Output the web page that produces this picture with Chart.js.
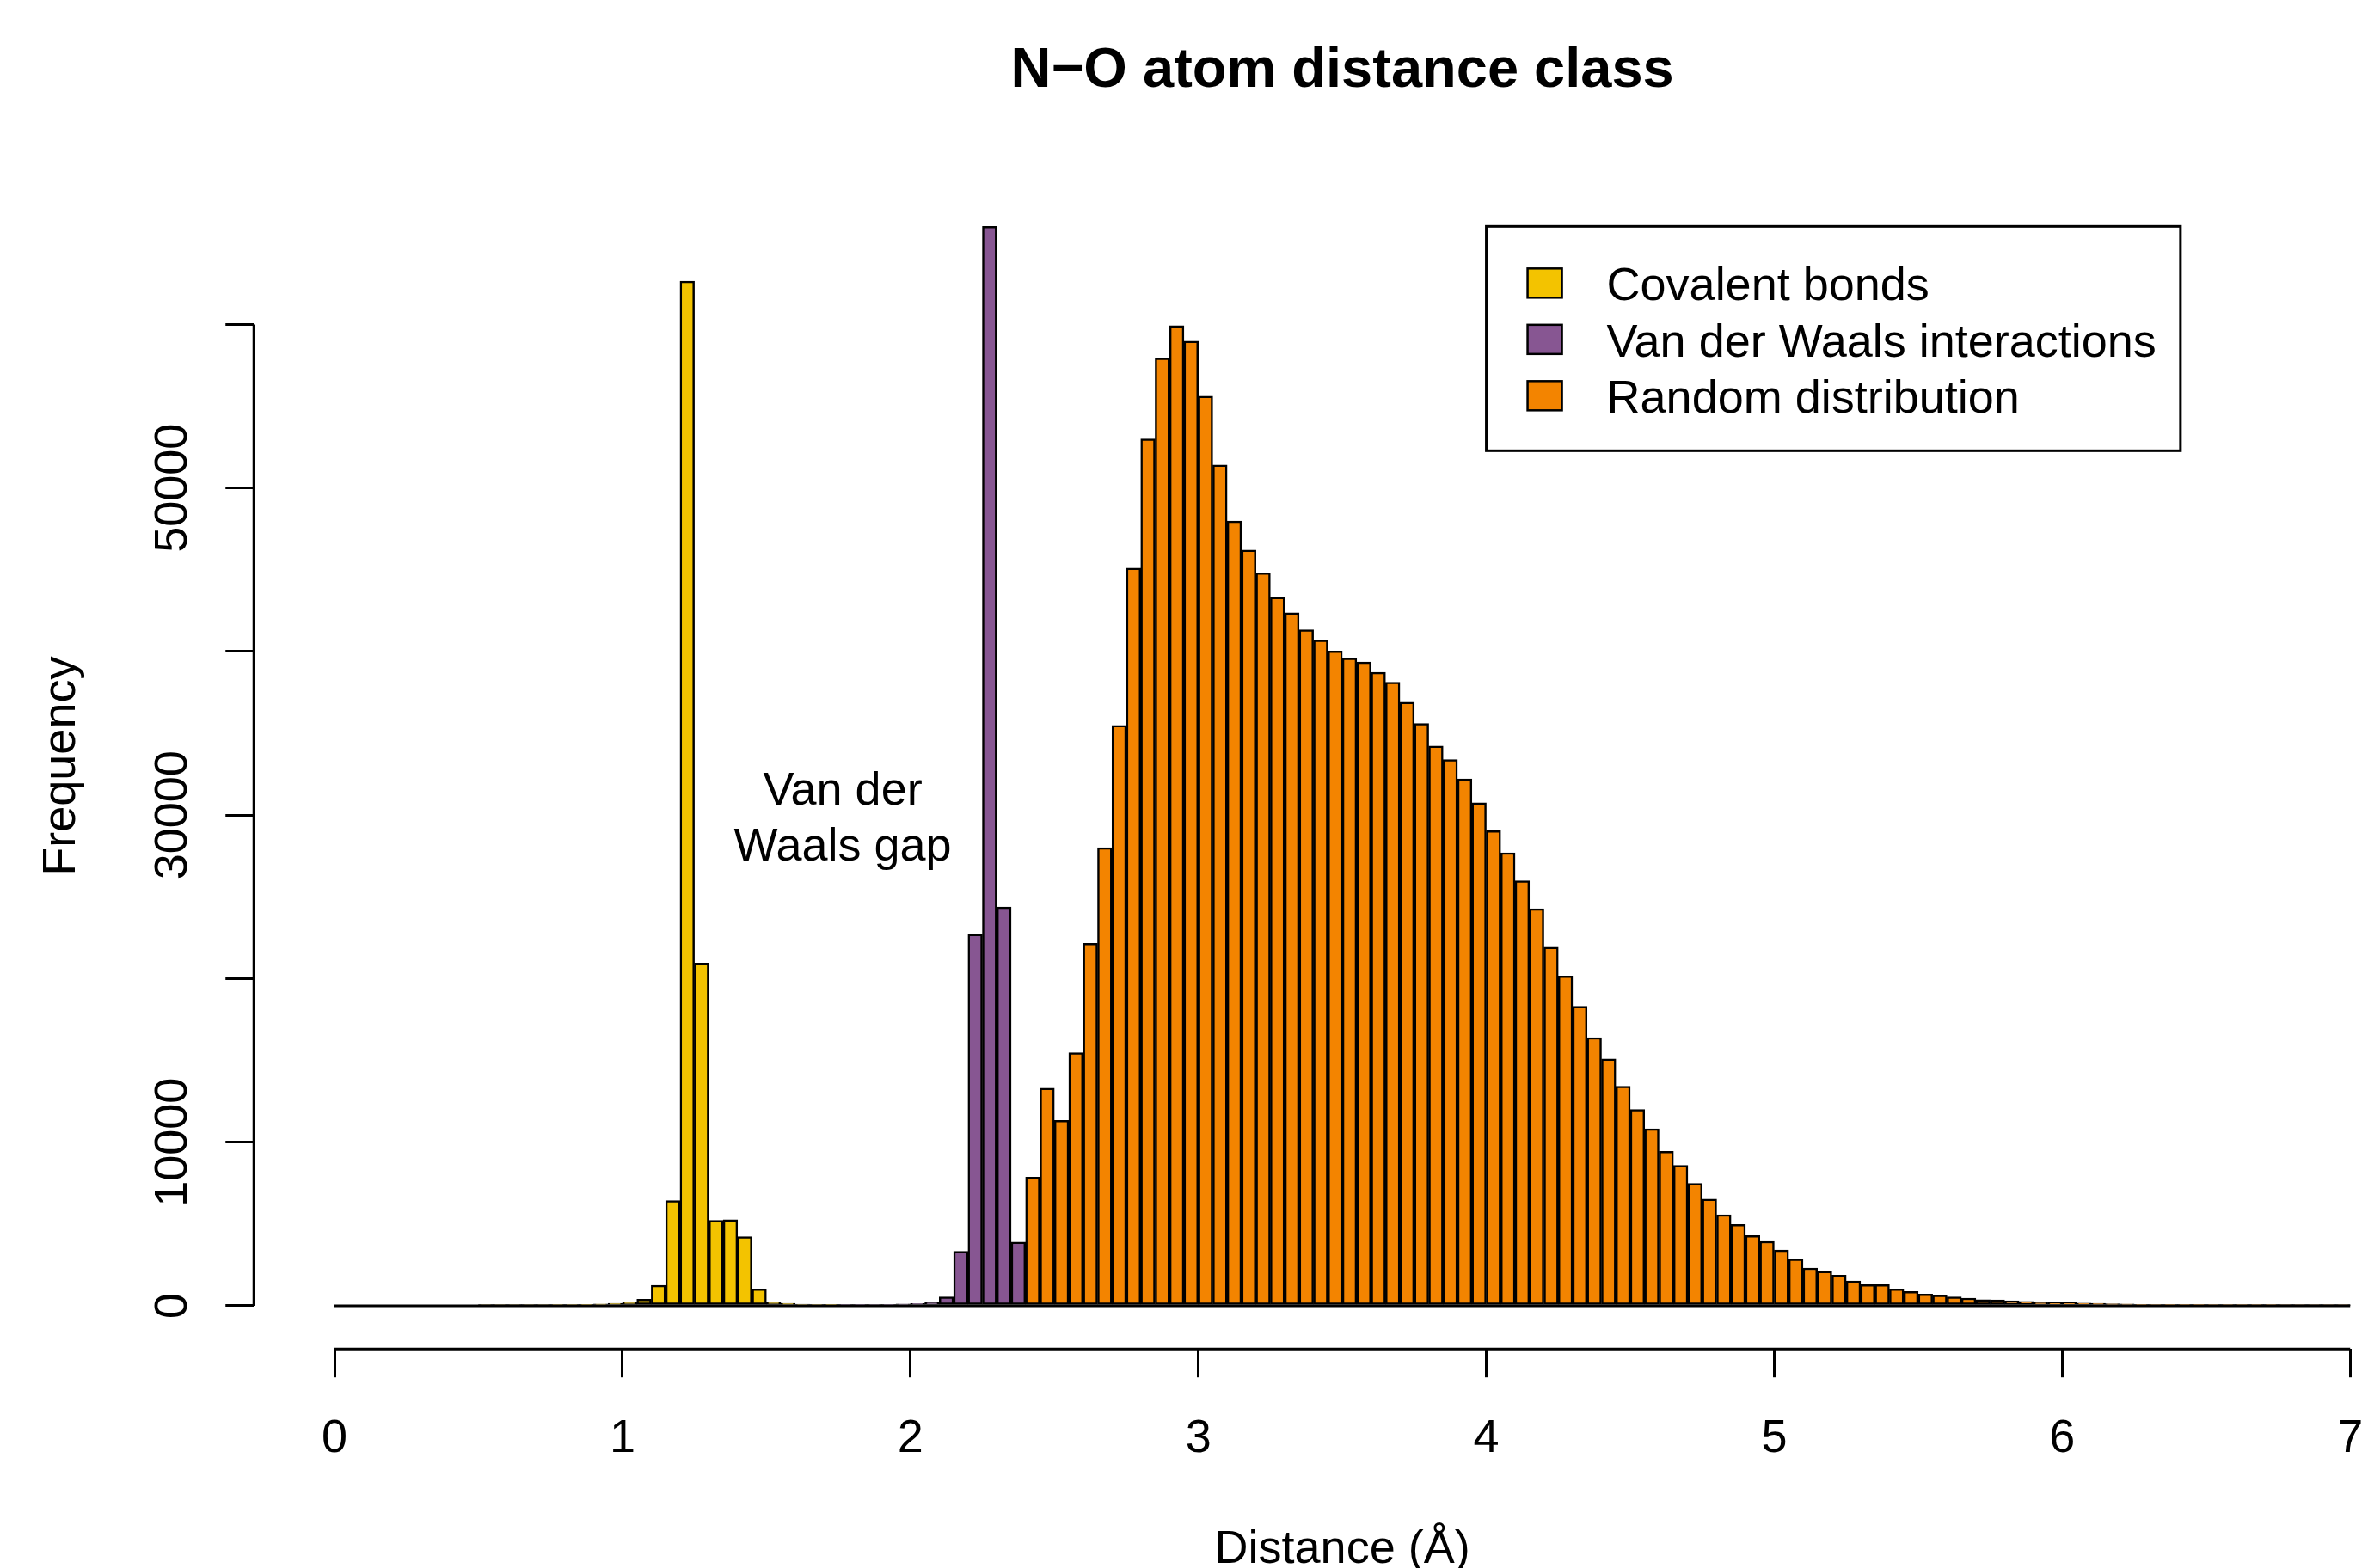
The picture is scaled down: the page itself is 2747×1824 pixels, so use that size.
<!DOCTYPE html>
<html>
<head>
<meta charset="utf-8">
<script src="https://cdn.jsdelivr.net/npm/chart.js@4"></script>
<style>
html, body { margin: 0; padding: 0; background: #ffffff; overflow: hidden; }
canvas { display: block; }
</style>
</head>
<body>
<canvas id="chart" width="2827" height="1824"></canvas>
<script>
const FONT = '"Liberation Sans", Arial, Helvetica, sans-serif';

// Histogram bins (Å)
const binWidth = 0.05;

// Covalent bonds: bins starting at 0.00 Å
const covalentFrom = 0.00;
const covalentCounts = [
  0, 0, 0, 0, 0, 0, 0, 0, 0, 0,
  10, 10, 15, 20, 25, 35, 45, 70,
  110, 150, 250, 400, 1250, 6430, 62650, 20950, 5230, 5270, 4230, 1030,
  240, 150, 100, 80, 70
];

// Van der Waals interactions: bins starting at 1.75 Å
const vdwFrom = 1.75;
const vdwCounts = [70, 70, 80, 90, 110, 140, 220, 540, 3330, 22720, 66000, 24380, 3900];

// Random distribution: bins starting at 2.40 Å
const randomFrom = 2.40;
const randomCounts = [
  7860, 13300, 11340, 15480, 22160, 28010, 35490, 45100, 53010, 57950,
  59930, 58980, 55620, 51420, 47980, 46210, 44820, 43320, 42370, 41340,
  40710, 40040, 39600, 39360, 38730, 38130, 36910, 35610, 34220, 33400,
  32220, 30760, 29050, 27700, 25990, 24280, 21920, 20160, 18310, 16400,
  15090, 13430, 12000, 10820, 9440, 8590, 7480, 6530, 5570, 4970,
  4290, 3940, 3410, 2860, 2310, 2110, 1880, 1520, 1300, 1290,
  1030, 870, 720, 650, 540, 470, 380, 360, 310, 270,
  220, 200, 190, 170, 150, 120, 110, 90, 80, 70,
  60, 55, 50, 45, 40, 35, 30, 25, 20, 15,
  10, 5
];

const seriesNames = ['Covalent bonds', 'Van der Waals interactions', 'Random distribution'];
const seriesColors = ['#F3C300', '#875692', '#F38400'];

const xTickValues = [0, 1, 2, 3, 4, 5, 6, 7];
const yTickValues = [0, 10000, 20000, 30000, 40000, 50000, 60000];
const yTickLabels = ['0', '10000', '', '30000', '', '50000', ''];

const titleText = 'N\u2212O atom distance class';
const xTitle = 'Distance (\u00C5)';
const yTitle = 'Frequency';
const gapText = ['Van der', 'Waals gap'];
const gapAt = { x: 1.765, y: 30000 };
const legendAt = { x: 4, y: 66000 };

function toPoints(from, counts) {
  return counts.map((v, i) => ({ x: +(from + (i + 0.5) * binWidth).toFixed(4), y: v }));
}

const maxCount = Math.max(...covalentCounts, ...vdwCounts, ...randomCounts);
const xLo = xTickValues[0], xHi = xTickValues[xTickValues.length - 1];
const xMin = xLo - 0.04 * (xHi - xLo), xMax = xHi + 0.04 * (xHi - xLo);
const yMin = -0.04 * maxCount, yMax = 1.04 * maxCount;

const rStyle = {
  id: 'rStyle',
  afterDraw(chart) {
    const { ctx, chartArea, scales: { x, y } } = chart;
    ctx.save();
    ctx.strokeStyle = '#000';
    ctx.fillStyle = '#000';
    ctx.lineWidth = 3;
    // x axis line
    ctx.beginPath();
    ctx.moveTo(x.getPixelForValue(xLo), chartArea.bottom);
    ctx.lineTo(x.getPixelForValue(xHi), chartArea.bottom);
    ctx.stroke();
    // y axis line
    ctx.beginPath();
    ctx.moveTo(chartArea.left, y.getPixelForValue(yTickValues[0]));
    ctx.lineTo(chartArea.left, y.getPixelForValue(yTickValues[yTickValues.length - 1]));
    ctx.stroke();
    // histogram baseline
    ctx.beginPath();
    ctx.moveTo(x.getPixelForValue(xLo), y.getPixelForValue(0));
    ctx.lineTo(x.getPixelForValue(xHi), y.getPixelForValue(0));
    ctx.stroke();

    // annotation
    const textShift = 5;
    ctx.font = '54px ' + FONT;
    ctx.textAlign = 'center';
    ctx.textBaseline = 'middle';
    const gx = x.getPixelForValue(gapAt.x), gy = y.getPixelForValue(gapAt.y);
    const lh = 65;
    gapText.forEach((t, i) => {
      ctx.fillText(t, gx, gy + textShift + (i - (gapText.length - 1) / 2) * lh);
    });

    // legend
    const ds = chart.data.datasets;
    const textW = Math.max(...ds.map(d => ctx.measureText(d.label).width));
    const left = x.getPixelForValue(legendAt.x), top = y.getPixelForValue(legendAt.y);
    const rowH = 65.5;
    const w = 140 + textW + 28, h = 261;
    ctx.lineWidth = 3;
    ctx.strokeRect(left, top, w, h);
    ctx.textAlign = 'left';
    ds.forEach((d, i) => {
      const cy = top + 66 + rowH * i;
      ctx.fillStyle = d.backgroundColor;
      ctx.fillRect(left + 48, cy - 17, 40, 34);
      ctx.lineWidth = 2.5;
      ctx.strokeRect(left + 48, cy - 17, 40, 34);
      ctx.fillStyle = '#000';
      ctx.fillText(d.label, left + 140, cy + textShift);
    });
    ctx.restore();
  }
};

new Chart(document.getElementById('chart'), {
  type: 'bar',
  data: {
    datasets: [
      { label: seriesNames[0], data: toPoints(covalentFrom, covalentCounts), backgroundColor: seriesColors[0] },
      { label: seriesNames[1], data: toPoints(vdwFrom, vdwCounts), backgroundColor: seriesColors[1] },
      { label: seriesNames[2], data: toPoints(randomFrom, randomCounts), backgroundColor: seriesColors[2] }
    ]
  },
  options: {
    responsive: false,
    animation: false,
    devicePixelRatio: 1,
    color: '#000',
    datasets: {
      bar: {
        grouped: false,
        barPercentage: 1,
        categoryPercentage: 1,
        borderColor: '#000',
        borderWidth: 2.5,
        borderSkipped: false
      }
    },
    layout: { autoPadding: false, padding: { left: 0, top: 0, bottom: 0, right: 0 } },
    plugins: {
      legend: { display: false },
      tooltip: { enabled: false },
      title: {
        display: true,
        text: titleText,
        color: '#000',
        fullSize: false,
        font: { family: FONT, size: 65, weight: 'bold' },
        padding: { top: 44.5, bottom: 90.6 }
      }
    },
    scales: {
      x: {
        type: 'linear',
        min: xMin,
        max: xMax,
        offset: false,
        border: { display: false },
        grid: { offset: false, drawOnChartArea: false, drawTicks: true, tickLength: 33, color: '#000', lineWidth: 3 },
        ticks: {
          autoSkip: false, minRotation: 0, maxRotation: 0, padding: 40, color: '#000',
          font: { family: FONT, size: 54 },
          callback: (v) => String(v)
        },
        afterBuildTicks: (s) => { s.ticks = xTickValues.map(v => ({ value: v })); },
        afterFit: (s) => { s.height = 254.8; },
        title: {
          display: true, text: xTitle, color: '#000',
          font: { family: FONT, size: 54 },
          padding: { top: 0, bottom: -12 }
        }
      },
      y: {
        type: 'linear',
        min: yMin,
        max: yMax,
        border: { display: false },
        grid: { drawOnChartArea: false, drawTicks: true, tickLength: 33, color: '#000', lineWidth: 3 },
        ticks: {
          autoSkip: false, minRotation: 90, maxRotation: 90, crossAlign: 'center', padding: -15, color: '#000',
          font: { family: FONT, size: 54 },
          callback: (v) => { const i = yTickValues.indexOf(v); return i >= 0 ? yTickLabels[i] : ''; }
        },
        afterBuildTicks: (s) => { s.ticks = yTickValues.map(v => ({ value: v })); },
        afterFit: (s) => { s.width = 295.24; },
        title: {
          display: true, text: yTitle, color: '#000',
          font: { family: FONT, size: 54 },
          padding: { top: 39.5, bottom: 0 }
        }
      }
    }
  },
  plugins: [rStyle]
});
</script>
</body>
</html>
